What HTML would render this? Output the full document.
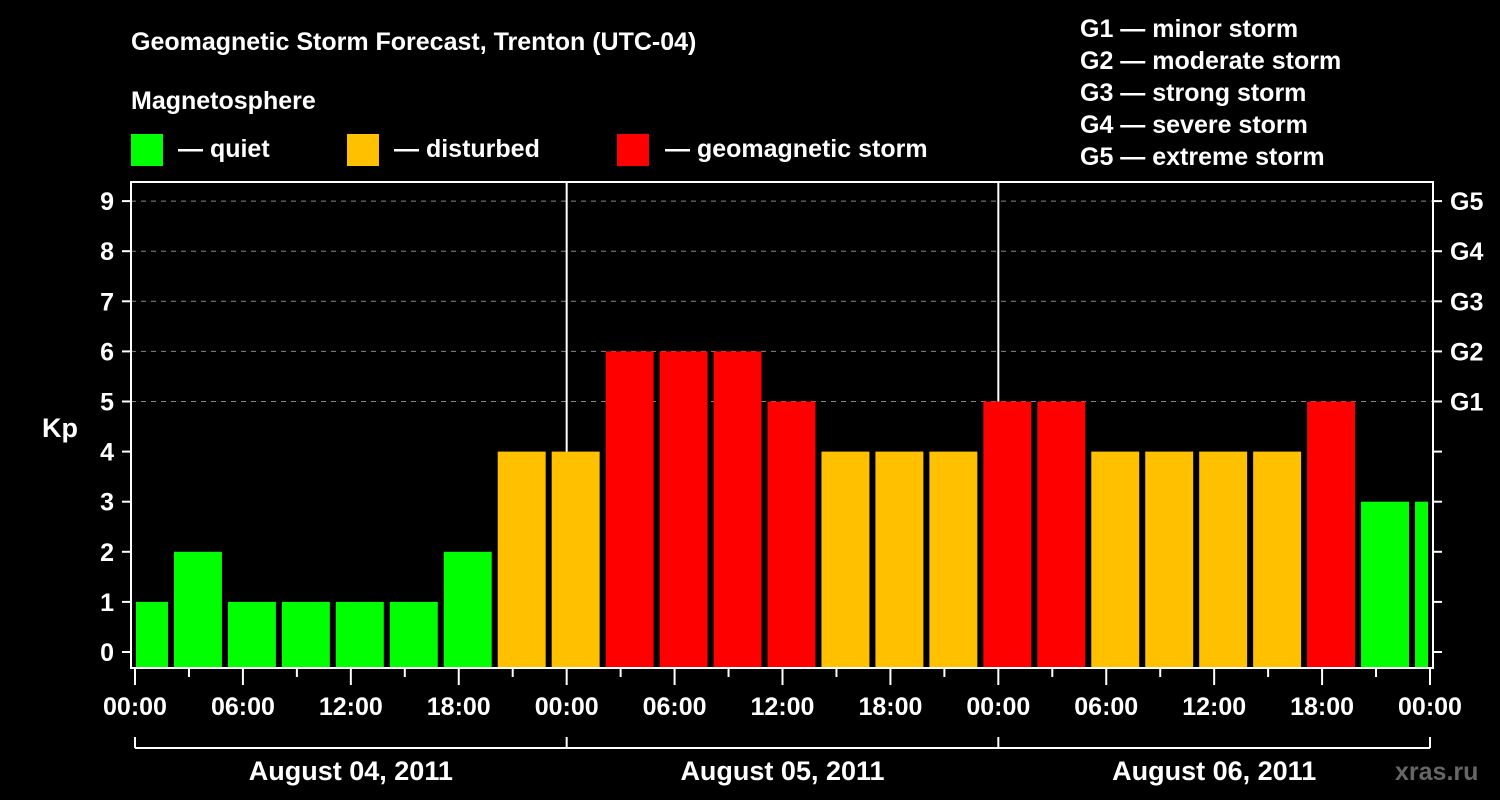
<!DOCTYPE html>
<html><head><meta charset="utf-8"><style>
body{margin:0;background:#000;}
svg{display:block;font-family:"Liberation Sans",sans-serif;font-weight:bold;}
</style></head><body>
<svg id="c" width="1500" height="800" viewBox="0 0 1500 800">
<rect width="1500" height="800" fill="#000"/>
<text x="131" y="50" fill="#fff" font-size="25">Geomagnetic Storm Forecast, Trenton (UTC-04)</text>
<text x="131" y="109" fill="#fff" font-size="25">Magnetosphere</text>
<g><rect x="131" y="134" width="32" height="32" fill="#00ff00"/><text x="178" y="157" fill="#fff" font-size="25">— quiet</text></g>
<g><rect x="347" y="134" width="32" height="32" fill="#ffc000"/><text x="394" y="157" fill="#fff" font-size="25">— disturbed</text></g>
<g><rect x="617" y="134" width="32" height="32" fill="#ff0000"/><text x="665" y="157" fill="#fff" font-size="25">— geomagnetic storm</text></g>
<g fill="#fff" font-size="25">
<text x="1080" y="37">G1 — minor storm</text>
<text x="1080" y="69">G2 — moderate storm</text>
<text x="1080" y="101">G3 — strong storm</text>
<text x="1080" y="133">G4 — severe storm</text>
<text x="1080" y="165">G5 — extreme storm</text>
</g>
<text x="42" y="437" fill="#fff" font-size="27">Kp</text>
<text x="1395" y="780" fill="#666" font-size="25">xras.ru</text>
<g id="grid"></g><g id="bars"></g><g id="axes"></g>
</svg>
<script>
const kpValues=[1,2,1,1,1,1,2,4,4,6,6,6,5,4,4,4,5,5,4,4,4,4,5,3,3];
const yTicks=[0,1,2,3,4,5,6,7,8,9];
const gLabels=["","","","","","G1","G2","G3","G4","G5"];
const xTickLabels=["00:00","06:00","12:00","18:00","00:00","06:00","12:00","18:00","00:00","06:00","12:00","18:00","00:00"];
const dayLabels=["August 04, 2011","August 05, 2011","August 06, 2011"];
const NS="http://www.w3.org/2000/svg";
const X0=135,X1=1430,L=131,R=1433,T=182,B=668;
const xh=h=>X0+h*(X1-X0)/72;
const yk=k=>652-k*50.1;
function mk(p,tag,a){const e=document.createElementNS(NS,tag);for(const k in a)e.setAttribute(k,a[k]);p.appendChild(e);return e;}
const grid=document.getElementById('grid'),bars=document.getElementById('bars'),axes=document.getElementById('axes');
yTicks.forEach(k=>{if(k>=5){const l=mk(grid,'line',{x1:L,x2:R,y1:yk(k),y2:yk(k),stroke:'#888','stroke-width':1,'stroke-dasharray':'5,5'});

}});
[24,48].forEach(h=>{const l=mk(grid,'line',{x1:xh(h),x2:xh(h),y1:T,y2:B,stroke:'#fff','stroke-width':2});

});
const col=v=>v>=5?'#ff0000':(v>=4?'#ffc000':'#00ff00');
kpValues.forEach((v,i)=>{const c=3*i+0.5;let a=Math.max(xh(c-1.333),L+5),b=Math.min(xh(c+1.333),R-5);
const r=mk(bars,'rect',{x:a,y:yk(v),width:b-a,height:B-yk(v),fill:col(v)});

});
const fr=mk(axes,'rect',{x:L,y:T,width:R-L,height:B-T,fill:'none',stroke:'#fff','stroke-width':2});


yTicks.forEach((k,i)=>{mk(axes,'line',{x1:122,x2:L,y1:yk(k),y2:yk(k),stroke:'#fff','stroke-width':2});
mk(axes,'line',{x1:R,x2:1442,y1:yk(k),y2:yk(k),stroke:'#fff','stroke-width':2});
const t=mk(axes,'text',{x:114,y:yk(k)+9,fill:'#fff','font-size':25,'text-anchor':'end'});t.textContent=k;


if(gLabels[i]){const g=mk(axes,'text',{x:1450,y:yk(k)+9,fill:'#fff','font-size':25});g.textContent=gLabels[i];

}});
for(let h=0;h<=72;h+=3){mk(axes,'line',{x1:xh(h),x2:xh(h),y1:B,y2:h%6?677:685,stroke:'#fff','stroke-width':2});}
xTickLabels.forEach((s,i)=>{const t=mk(axes,'text',{x:xh(i*6),y:715,fill:'#fff','font-size':25,'text-anchor':'middle'});t.textContent=s;

});
mk(axes,'line',{x1:X0,x2:X1,y1:748,y2:748,stroke:'#fff','stroke-width':2});
[0,24,48,72].forEach(h=>mk(axes,'line',{x1:xh(h),x2:xh(h),y1:737,y2:748,stroke:'#fff','stroke-width':2}));
dayLabels.forEach((s,i)=>{const t=mk(axes,'text',{x:xh(i*24+12),y:780,fill:'#fff','font-size':27,'text-anchor':'middle'});t.textContent=s;

});
</script>
</body></html>
